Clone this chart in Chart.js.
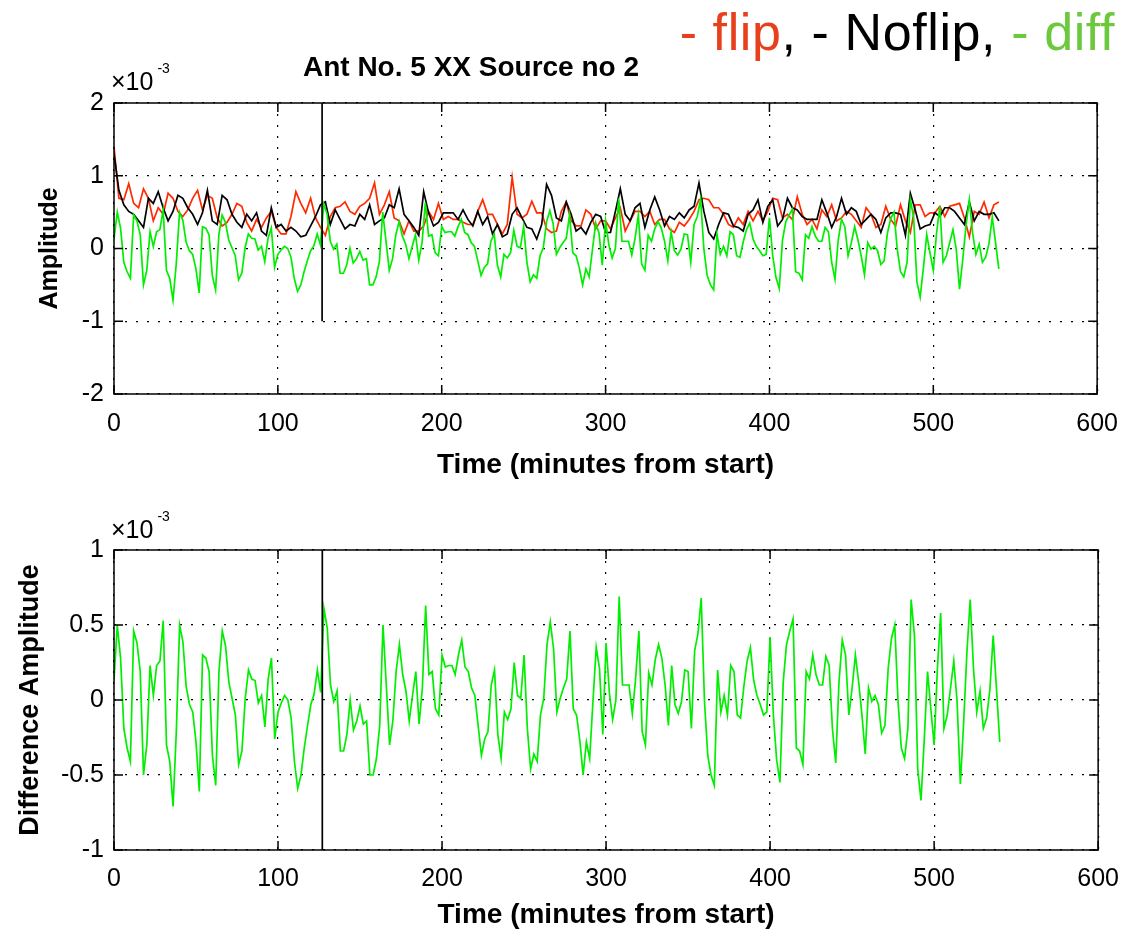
<!doctype html>
<html lang="en">
<head>
<meta charset="utf-8">
<script src="https://cdn.jsdelivr.net/npm/chart.js@4.4.0/dist/chart.umd.min.js"></script>
<style>
  body { margin: 0; background: #fff; font-family: "Liberation Sans", Arial, sans-serif; }
  #page { position: relative; width: 1133px; height: 932px; overflow: hidden; }
  canvas { position: absolute; left: 0; }
  #c-top { top: 0; }
  #c-bot { top: 480px; }
  .txt { position: absolute; white-space: nowrap; color: #000; }
  #legend { right: 18px; top: 6px; font-size: 52px; line-height: 52px; letter-spacing: 0.6px; }
  #title { left: 471px; top: 52px; transform: translateX(-50%); font-size: 28px; font-weight: bold; line-height: 30px; }
  .exp { font-size: 25px; line-height: 25px; }
  .exp sup { font-size: 14px; position: relative; top: -8px; margin-left: 4px; }
</style>
</head>
<body>
<div id="page">
  <canvas id="c-top" width="1133" height="490"></canvas>
  <canvas id="c-bot" width="1133" height="452"></canvas>
  <div class="txt" id="legend"><span style="color:#e8401c">- flip</span>, - Noflip, <span style="color:#6cc83c">- diff</span></div>
  <div class="txt" id="title">Ant No. 5 XX Source no 2</div>
  <div class="txt exp" style="left:111px; top:64px;">&times;10<sup>-3</sup></div>
  <div class="txt exp" style="left:111px; top:512px;">&times;10<sup>-3</sup></div>
</div>
<script>
// values in units of 1e-3, sampled every ampStep / diffStep minutes from t = 0
const ampStep = 3;
const diffStep = 2;

const flipAmp = [
  1.4, 0.69, 0.67, 0.89, 0.62, 0.56, 0.82, 0.69, 0.38, 0.56, 0.47, 0.76, 0.69, 0.51, 0.44, 0.53,
  0.69, 0.8, 0.53, 0.73, 0.69, 0.42, 0.31, 0.36, 0.47, 0.62, 0.58, 0.36, 0.24, 0.4, 0.29, 0.42,
  0.51, 0.29, 0.2, 0.2, 0.44, 0.78, 0.62, 0.49, 0.69, 0.42, 0.29, 0.18, 0.44, 0.56, 0.58,
  0.64, 0.51, 0.47, 0.58, 0.62, 0.69, 0.9, 0.47, 0.6, 0.78, 0.42, 0.38, 0.2, 0.38, 0.24, 0.24,
  0.31, 0.51, 0.4, 0.62, 0.4, 0.44, 0.4, 0.4, 0.36, 0.33, 0.33, 0.51, 0.67, 0.47, 0.47, 0.33,
  0.2, 0.33, 0.98, 0.47, 0.42, 0.47, 0.65, 0.49, 0.49, 0.27, 0.22, 0.24, 0.51, 0.64, 0.38, 0.31, 0.31,
  0.53, 0.47, 0.27, 0.38, 0.38, 0.27, 0.42, 0.56, 0.24, 0.38, 0.51, 0.51, 0.44, 0.51, 0.33, 0.4,
  0.4, 0.27, 0.22, 0.36, 0.31, 0.4, 0.51, 0.67, 0.69, 0.67, 0.56, 0.56, 0.47, 0.33, 0.29, 0.42,
  0.33, 0.51, 0.38, 0.51, 0.38, 0.51, 0.69, 0.67, 0.42, 0.47, 0.4, 0.71, 0.47, 0.33, 0.4, 0.27,
  0.53, 0.44, 0.6, 0.38, 0.42, 0.51, 0.47, 0.38, 0.29, 0.56, 0.47, 0.29, 0.33, 0.58, 0.4, 0.31,
  0.6, 0.38, 0.22, 0.6, 0.6, 0.44, 0.49, 0.49, 0.58, 0.44, 0.58, 0.6, 0.62, 0.42, 0.16, 0.51,
  0.47, 0.64, 0.42, 0.6, 0.64
];

const noflipAmp = [
  1.3, 0.8, 0.6, 0.51, 0.47, 0.38, 0.29, 0.69, 0.62, 0.78, 0.56, 0.38, 0.51, 0.73, 0.69, 0.56,
  0.47, 0.33, 0.49, 0.8, 0.38, 0.33, 0.73, 0.67, 0.47, 0.36, 0.29, 0.47, 0.38, 0.49, 0.24, 0.18,
  0.56, 0.29, 0.33, 0.24, 0.29, 0.24, 0.16, 0.18, 0.31, 0.44, 0.6, 0.64, 0.33, 0.53, 0.4,
  0.27, 0.33, 0.31, 0.47, 0.4, 0.6, 0.33, 0.38, 0.42, 0.6, 0.56, 0.82, 0.47, 0.38, 0.29, 0.18,
  0.78, 0.49, 0.31, 0.36, 0.49, 0.49, 0.49, 0.4, 0.53, 0.4, 0.31, 0.51, 0.33, 0.44, 0.2, 0.33,
  0.16, 0.2, 0.47, 0.56, 0.42, 0.29, 0.27, 0.13, 0.33, 0.88, 0.73, 0.42, 0.38, 0.64, 0.47, 0.24, 0.29,
  0.2, 0.36, 0.47, 0.44, 0.22, 0.22, 0.51, 0.82, 0.47, 0.38, 0.56, 0.62, 0.29, 0.53, 0.71, 0.53,
  0.31, 0.44, 0.4, 0.49, 0.42, 0.53, 0.58, 0.9, 0.51, 0.22, 0.13, 0.33, 0.49, 0.47, 0.31, 0.29,
  0.24, 0.47, 0.53, 0.67, 0.36, 0.58, 0.67, 0.31, 0.4, 0.69, 0.56, 0.53, 0.44, 0.4, 0.4, 0.4,
  0.67, 0.49, 0.29, 0.44, 0.69, 0.47, 0.56, 0.51, 0.33, 0.4, 0.47, 0.4, 0.22, 0.42, 0.49, 0.49,
  0.47, 0.18, 0.76, 0.53, 0.27, 0.31, 0.33, 0.49, 0.44, 0.56, 0.56, 0.51, 0.42, 0.33, 0.64, 0.38,
  0.51, 0.47, 0.47, 0.49, 0.38
];

const diffAmp = [
  0.13, 0.5, 0.28, -0.19, -0.32, -0.41, 0.46, 0.38, 0.19, -0.5, -0.3, 0.23, 0.03, 0.23, 0.26, 0.53,
  -0.3, -0.41, -0.71, -0.21, 0.5, 0.39, 0.09, -0.03, -0.08, -0.28, -0.61, 0.3, 0.28, 0.19, -0.37, -0.57,
  0.19, 0.46, 0.36, 0.12, 0.01, -0.1, -0.43, -0.34, 0.01, 0.2, 0.14, 0.13, -0.02, 0.03, -0.18, 0.14,
  0.28, -0.26, -0.08, -0.02, 0.03, 0.0, -0.12, -0.41, -0.59, -0.5, -0.32, -0.17, -0.03, 0.04, 0.2, 0.05,
  0.61, 0.48, 0.1, -0.01, 0.06, -0.34, -0.34, -0.23, 0.0, -0.2, -0.14, -0.04, -0.16, -0.14, -0.5, -0.5,
  -0.39, -0.17, 0.5, 0.1, -0.3, -0.14, 0.19, 0.37, 0.17, 0.06, -0.14, 0.03, 0.19, -0.16, 0.08, 0.63,
  0.17, 0.19, -0.06, -0.1, 0.3, 0.22, 0.23, 0.23, 0.17, 0.3, 0.4, 0.22, 0.19, 0.08, 0.03, -0.17,
  -0.37, -0.26, -0.21, 0.1, 0.2, -0.23, -0.39, -0.08, -0.13, -0.06, 0.25, 0.03, 0.01, 0.3, -0.19, -0.46,
  -0.36, -0.41, -0.1, 0.01, 0.37, 0.52, 0.34, -0.08, 0.01, 0.08, 0.14, 0.46, -0.06, -0.1, -0.27, -0.5,
  -0.28, -0.39, -0.01, 0.35, 0.21, -0.23, 0.38, 0.05, -0.13, 0.0, 0.69, 0.1, 0.1, 0.1, -0.09, 0.14,
  0.46, -0.21, -0.3, 0.18, 0.1, 0.27, 0.37, 0.28, 0.1, -0.17, 0.23, -0.03, -0.09, -0.01, 0.2, 0.19,
  -0.19, 0.33, 0.44, 0.68, -0.01, -0.37, -0.5, -0.57, 0.2, -0.08, 0.03, -0.1, 0.23, 0.19, -0.1, -0.12,
  0.09, 0.26, 0.35, 0.13, 0.03, -0.03, -0.1, -0.08, 0.42, -0.1, -0.4, -0.55, 0.12, 0.37, 0.46, 0.54,
  -0.32, -0.34, -0.43, 0.19, 0.14, 0.3, 0.17, 0.1, 0.1, 0.29, 0.23, -0.19, -0.42, 0.12, 0.4, 0.3,
  -0.1, 0.08, 0.3, 0.12, -0.1, -0.36, 0.08, -0.01, 0.03, -0.03, -0.22, -0.17, 0.21, 0.41, 0.5, -0.01,
  -0.32, -0.39, -0.19, 0.67, 0.43, -0.46, -0.67, -0.26, 0.19, -0.06, -0.3, 0.21, 0.58, -0.19, -0.1, 0.08,
  0.26, -0.01, -0.56, -0.15, 0.32, 0.67, 0.21, -0.08, 0.06, -0.19, -0.12, 0.07, 0.43, 0.08, -0.28
];

// the solid vertical marker drawn in both panels
const markerTime = 127;
const upperMarker = [-1, 2];
const lowerMarker = [-1, 1];

const xTicks = [0, 100, 200, 300, 400, 500, 600];
const upperYTicks = [-2, -1, 0, 1, 2];
const lowerYTicks = [-1, -0.5, 0, 0.5, 1];

const toPoints = (vals, step) => vals.map((v, i) => ({ x: i * step, y: v }));
const markerPoints = ys => ys.map(y => ({ x: markerTime, y: y }));

Chart.defaults.font.family = '"Liberation Sans", Arial, sans-serif';
Chart.defaults.color = '#000';

// matlab style closed box with inward ticks
const boxPlugin = {
  id: 'box',
  afterDraw(chart) {
    const { ctx, chartArea: a, scales } = chart;
    ctx.save();
    ctx.strokeStyle = '#000';
    ctx.lineWidth = 1.5;
    ctx.strokeRect(a.left, a.top, a.right - a.left, a.bottom - a.top);
    ctx.beginPath();
    scales.x.ticks.forEach(t => {
      const px = scales.x.getPixelForValue(t.value);
      ctx.moveTo(px, a.bottom); ctx.lineTo(px, a.bottom - 9);
      ctx.moveTo(px, a.top); ctx.lineTo(px, a.top + 9);
    });
    scales.y.ticks.forEach(t => {
      const py = scales.y.getPixelForValue(t.value);
      ctx.moveTo(a.left, py); ctx.lineTo(a.left + 9, py);
      ctx.moveTo(a.right, py); ctx.lineTo(a.right - 9, py);
    });
    ctx.stroke();
    ctx.restore();
  }
};

function panel(canvasId, datasets, yTicks, yMin, yMax, yTitle, o) {
  return new Chart(document.getElementById(canvasId), {
    type: 'line',
    data: { datasets: datasets },
    plugins: [boxPlugin],
    options: {
      responsive: false,
      animation: false,
      events: [],
      layout: { padding: { left: 0, right: 33, top: o.top, bottom: 0 } },
      elements: { point: { radius: 0 }, line: { tension: 0, borderWidth: 1.7 } },
      plugins: { legend: { display: false }, tooltip: { enabled: false } },
      scales: {
        x: {
          type: 'linear', min: 0, max: 600,
          afterBuildTicks: s => { s.ticks = xTicks.map(v => ({ value: v })); },
          afterFit: s => { s.height = o.xHeight; },
          ticks: { font: { size: 25 }, padding: o.xPad, maxRotation: 0, callback: v => String(v) },
          grid: { color: '#000', lineWidth: 1.2, drawTicks: false },
          border: { display: false, dash: [2, 9] },
          title: { display: true, text: 'Time (minutes from start)', font: { size: 28, weight: 'bold' },
                   padding: { top: 0, bottom: o.xTitlePad } }
        },
        y: {
          min: yMin, max: yMax,
          afterBuildTicks: s => { s.ticks = yTicks.map(v => ({ value: v })); },
          afterFit: s => { s.width = 114; },
          ticks: { font: { size: 25 }, padding: 10, callback: v => String(v) },
          grid: { color: '#000', lineWidth: 1.2, drawTicks: false },
          border: { display: false, dash: [2, 9] },
          title: { display: true, text: yTitle, font: { size: o.yTitleSize, weight: 'bold' },
                   padding: { top: o.yTitlePad, bottom: 0 } }
        }
      }
    }
  });
}

panel('c-top', [
  { data: toPoints(flipAmp, ampStep), borderColor: '#ff2a00', order: 4 },
  { data: toPoints(noflipAmp, ampStep), borderColor: '#000', order: 3 },
  { data: toPoints(diffAmp, diffStep), borderColor: '#00ee00', order: 2 },
  { data: markerPoints(upperMarker), borderColor: '#000', order: 1 }
], upperYTicks, -2, 2, 'Amplitude',
   { top: 103, xHeight: 96, xPad: 15, xTitlePad: 8, yTitlePad: 35, yTitleSize: 25 });

panel('c-bot', [
  { data: toPoints(diffAmp, diffStep), borderColor: '#00ee00', order: 2 },
  { data: markerPoints(lowerMarker), borderColor: '#000', order: 1 }
], lowerYTicks, -1, 1, 'Difference Amplitude',
   { top: 70, xHeight: 82, xPad: 14, xTitlePad: 0, yTitlePad: 14, yTitleSize: 27 });
</script>
</body>
</html>
